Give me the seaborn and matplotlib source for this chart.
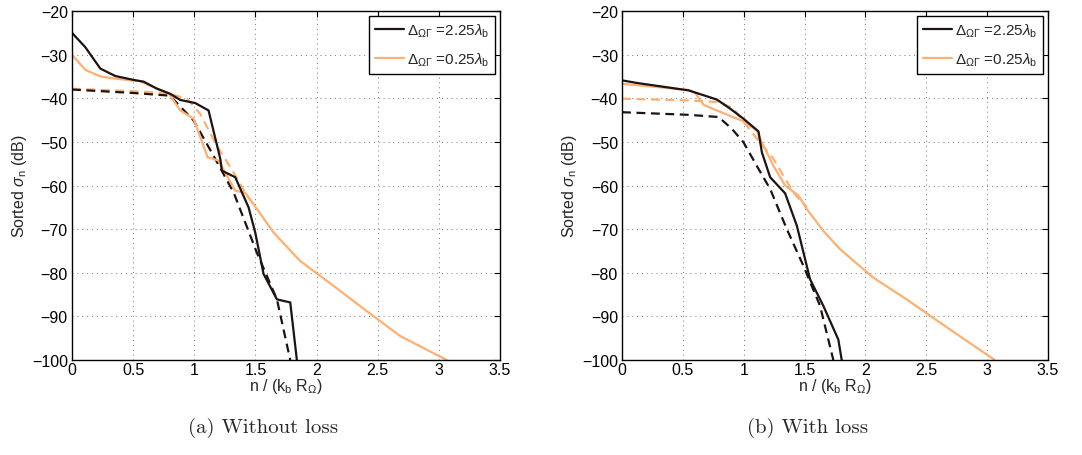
import matplotlib
matplotlib.use("Agg")
import matplotlib.pyplot as plt
import seaborn as sns
import numpy as np
import pandas as pd

# ---------------- data ----------------
# Panel (a): without loss
a_blk_x = [0, 0.109, 0.232, 0.354, 0.504, 0.586, 0.695, 0.804, 0.886, 1.008, 1.117, 1.213, 1.226, 1.335, 1.444, 1.499, 1.567, 1.676, 1.785, 1.839]
a_blk_y = [-25.0, -28.3, -33.2, -34.9, -35.8, -36.2, -37.8, -39.0, -40.4, -41.1, -42.8, -53.9, -56.6, -58.1, -65.0, -70.8, -80.3, -86.1, -86.8, -100]
a_blkd_x = [0, 0.504, 0.80, 0.995, 1.158, 1.322, 1.512, 1.676, 1.785]
a_blkd_y = [-38.0, -38.8, -39.4, -45.1, -53.2, -61.6, -75.4, -86.1, -100]
a_org_x = [0, 0.109, 0.232, 0.354, 0.559, 0.668, 0.79, 0.886, 0.995, 1.109, 1.199, 1.335, 1.417, 1.485, 1.649, 1.866, 2.139, 2.411, 2.684, 3.065]
a_org_y = [-30.0, -33.5, -35.0, -35.5, -36.1, -37.5, -38.8, -42.8, -44.7, -53.5, -54.3, -61.2, -61.7, -64.3, -70.8, -77.3, -83.0, -88.8, -94.5, -100]
a_orgd_x = [0, 0.504, 0.777, 0.94, 1.049, 1.185, 1.322, 1.43, 1.485]
a_orgd_y = [-37.8, -38.4, -38.8, -40.1, -43.6, -50.9, -57.0, -62.3, -64.3]

# Panel (b): with loss
b_blk_x = [0, 0.123, 0.547, 0.779, 0.889, 0.998, 1.121, 1.149, 1.217, 1.340, 1.436, 1.545, 1.654, 1.777, 1.805]
b_blk_y = [-35.9, -36.5, -38.2, -40.3, -42.4, -44.7, -47.6, -52.4, -58.1, -61.8, -69.2, -81.5, -87.6, -95.3, -100]
b_blkd_x = [0, 0.547, 0.793, 0.902, 0.998, 1.107, 1.217, 1.354, 1.49, 1.627, 1.736]
b_blkd_y = [-43.2, -43.8, -44.3, -47.0, -50.1, -55.5, -60.8, -70.0, -78.4, -87.6, -100]
b_org_x = [0, 0.547, 0.602, 0.670, 0.779, 0.998, 1.107, 1.149, 1.244, 1.340, 1.449, 1.518, 1.654, 1.791, 2.064, 2.338, 2.611, 3.062]
b_org_y = [-36.7, -38.1, -38.8, -41.5, -42.8, -45.3, -47.4, -50.1, -55.5, -60.0, -62.3, -65.4, -70.4, -74.6, -81.1, -86.1, -91.4, -100]
b_orgd_x = [0, 0.547, 0.807, 0.916, 1.066, 1.244, 1.408, 1.518]
b_orgd_y = [-40.1, -40.5, -40.9, -42.4, -47.8, -53.9, -61.6, -65.0]

legend_labels = [r"$\Delta_{\Omega\Gamma}$ =2.25$\lambda_{\mathrm{b}}$",
                 r"$\Delta_{\Omega\Gamma}$ =0.25$\lambda_{\mathrm{b}}$"]
captions = ["(a) Without loss", "(b) With loss"]
xticks = [0, 0.5, 1, 1.5, 2, 2.5, 3, 3.5]
yticks = [-100, -90, -80, -70, -60, -50, -40, -30, -20]

BLACK = "#1e1212"
ORANGE = "#ffb070"

sns.set_style("white")
plt.rcParams["font.family"] = ["Liberation Sans", "DejaVu Sans"]
plt.rcParams["mathtext.fontset"] = "custom"
plt.rcParams["mathtext.rm"] = "Liberation Sans"
plt.rcParams["mathtext.it"] = "Liberation Sans:italic"
plt.rcParams["mathtext.sf"] = "Liberation Sans"

fig = plt.figure(figsize=(10.82, 4.56), dpi=100)
ax1 = fig.add_axes([0.0665, 0.2083, 0.3956, 0.7654])
ax2 = fig.add_axes([0.5749, 0.2083, 0.3937, 0.7654])

panels = [
    (ax1, (a_blk_x, a_blk_y), (a_blkd_x, a_blkd_y), (a_org_x, a_org_y), (a_orgd_x, a_orgd_y)),
    (ax2, (b_blk_x, b_blk_y), (b_blkd_x, b_blkd_y), (b_org_x, b_org_y), (b_orgd_x, b_orgd_y)),
]

for i, (ax, blk, blkd, org, orgd) in enumerate(panels):
    sns.lineplot(x=orgd[0], y=orgd[1], ax=ax, color=ORANGE, lw=1.6, linestyle=(0, (4, 2.5)), sort=False, estimator=None)
    sns.lineplot(x=blkd[0], y=blkd[1], ax=ax, color=BLACK, lw=1.6, linestyle=(0, (4, 2.5)), sort=False, estimator=None)
    sns.lineplot(x=org[0], y=org[1], ax=ax, color=ORANGE, lw=1.6, sort=False, estimator=None, label=legend_labels[1])
    sns.lineplot(x=blk[0], y=blk[1], ax=ax, color=BLACK, lw=1.6, sort=False, estimator=None, label=legend_labels[0])
    ax.set_xlim(0, 3.5)
    ax.set_ylim(-100, -20)
    ax.set_xticks(xticks)
    ax.set_xticklabels([("%g" % t) for t in xticks])
    ax.set_yticks(yticks)
    ax.set_yticklabels([("\u2212%d" % abs(t)) for t in yticks])
    ax.tick_params(direction="in", length=4, width=0.8, top=True, right=True,
                   labelsize=11.5, colors="black")
    ax.tick_params(axis="x", pad=1.5)
    ax.tick_params(axis="y", pad=3)
    ax.grid(True, linestyle=(0, (1, 4)), color="#777777", lw=0.7)
    for s in ax.spines.values():
        s.set_color("black")
        s.set_linewidth(1.0)
    ax.set_xlabel(r"n / (k$_\mathrm{b}$ R$_\Omega$)", fontsize=11.5, labelpad=-1)
    ax.set_ylabel(r"Sorted $\sigma_\mathrm{n}$ (dB)", fontsize=11.5, labelpad=2)
    h, l = ax.get_legend_handles_labels()
    leg = ax.legend(h[::-1], l[::-1], loc="upper right", fontsize=11, frameon=True,
                    fancybox=False, edgecolor="black", framealpha=1,
                    borderaxespad=0.3, handlelength=1.9, handletextpad=0.2,
                    labelspacing=0.75, borderpad=0.4)
    leg.get_frame().set_linewidth(1.0)

fig.text(263 / 1082, 1 - 428 / 456, captions[0], fontsize=15, family=["cmr10", "Liberation Serif"],
         ha="center", va="center")
fig.text(808 / 1082, 1 - 428 / 456, captions[1], fontsize=15, family=["cmr10", "Liberation Serif"],
         ha="center", va="center")

fig.savefig("out.png", dpi=100)
